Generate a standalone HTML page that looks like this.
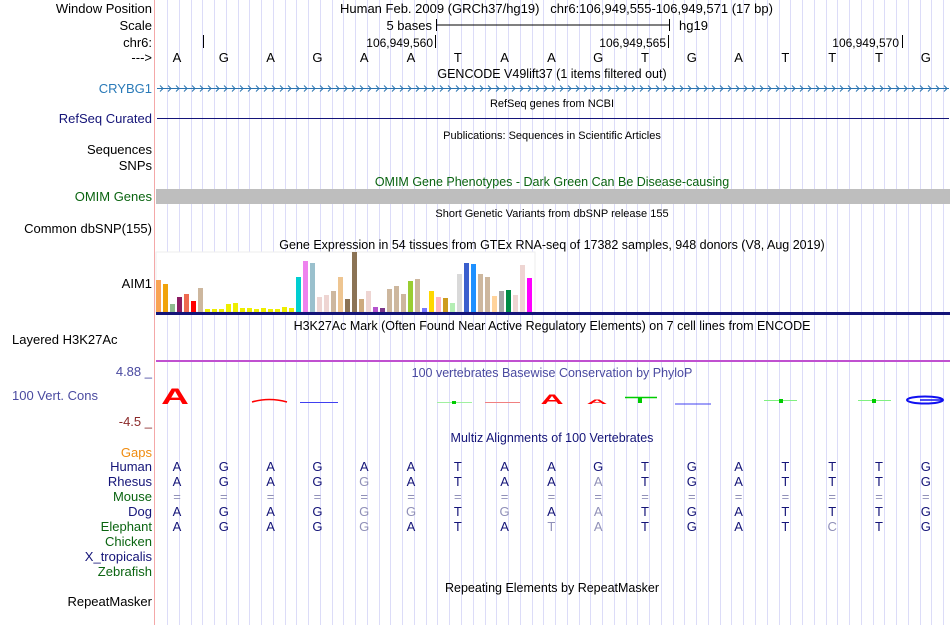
<!DOCTYPE html>
<html><head><meta charset="utf-8"><style>
html,body{margin:0;padding:0;background:#fff;width:950px;height:625px;overflow:hidden}
svg{display:block;font-family:"Liberation Sans",sans-serif}
</style></head><body>
<svg id="c" width="950" height="625" xmlns="http://www.w3.org/2000/svg">
<g id="grid"></g>
<line x1="154.5" y1="0" x2="154.5" y2="625" stroke="#f4a8a8" stroke-width="1"/>
<g font-size="13" text-anchor="end">
<text x="152" y="13" fill="#000">Window Position</text>
<text x="152" y="30" fill="#000">Scale</text>
<text x="152" y="47" fill="#000">chr6:</text>
<text x="152" y="62" fill="#000">---&gt;</text>
<text x="152" y="93" fill="#2a7ab8">CRYBG1</text>
<text x="152" y="123" fill="#141478">RefSeq Curated</text>
<text x="152" y="154" fill="#000">Sequences</text>
<text x="152" y="170" fill="#000">SNPs</text>
<text x="152" y="201" fill="#0a6410">OMIM Genes</text>
<text x="152" y="233" fill="#000">Common dbSNP(155)</text>
<text x="152" y="288" fill="#000">AIM1</text>
<text x="12" y="344" text-anchor="start" fill="#000">Layered H3K27Ac</text>
<text x="152" y="376" fill="#4a4aa0">4.88 _</text>
<text x="12" y="400" text-anchor="start" fill="#4a4aa0">100 Vert. Cons</text>
<text x="152" y="426" fill="#8b2a2a">-4.5 _</text>
<text x="152" y="457" fill="#f08c10">Gaps</text>
<text x="152" y="471" fill="#141478">Human</text>
<text x="152" y="486" fill="#141478">Rhesus</text>
<text x="152" y="501" fill="#0a6410">Mouse</text>
<text x="152" y="516" fill="#141478">Dog</text>
<text x="152" y="531" fill="#0a6410">Elephant</text>
<text x="152" y="546" fill="#0a6410">Chicken</text>
<text x="152" y="561" fill="#141478">X_tropicalis</text>
<text x="152" y="576" fill="#0a6410">Zebrafish</text>
<text x="152" y="606" fill="#000">RepeatMasker</text>
</g>
<g font-size="13" fill="#000">
<text x="340" y="13">Human Feb. 2009 (GRCh37/hg19)&#160;&#160;&#160;chr6:106,949,555-106,949,571 (17 bp)</text>
<text x="432" y="30" text-anchor="end">5 bases</text>
<line x1="436" y1="25" x2="669" y2="25" stroke="#000"/>
<line x1="436.5" y1="19" x2="436.5" y2="31" stroke="#000"/>
<line x1="669.5" y1="19" x2="669.5" y2="31" stroke="#000"/>
<text x="679" y="30">hg19</text>
<line x1="203.5" y1="35" x2="203.5" y2="48" stroke="#000"/>
<line x1="435.5" y1="35" x2="435.5" y2="48" stroke="#000"/>
<line x1="668.5" y1="35" x2="668.5" y2="48" stroke="#000"/>
<line x1="902.5" y1="35" x2="902.5" y2="48" stroke="#000"/>
<text x="433" y="47" text-anchor="end" font-size="12">106,949,560</text>
<text x="666" y="47" text-anchor="end" font-size="12">106,949,565</text>
<text x="899" y="47" text-anchor="end" font-size="12">106,949,570</text>
</g>
<g id="bases" font-size="13" text-anchor="middle"></g>
<g font-size="12.5" text-anchor="middle">
<text x="552" y="78" fill="#000">GENCODE V49lift37 (1 items filtered out)</text>
<text x="552" y="107" fill="#000" font-size="11">RefSeq genes from NCBI</text>
<text x="552" y="139" fill="#000" font-size="11">Publications: Sequences in Scientific Articles</text>
<text x="552" y="186" fill="#0a6410">OMIM Gene Phenotypes - Dark Green Can Be Disease-causing</text>
<text x="552" y="217" fill="#000" font-size="11">Short Genetic Variants from dbSNP release 155</text>
<text x="552" y="249" fill="#000">Gene Expression in 54 tissues from GTEx RNA-seq of 17382 samples, 948 donors (V8, Aug 2019)</text>
<text x="552" y="330" fill="#000">H3K27Ac Mark (Often Found Near Active Regulatory Elements) on 7 cell lines from ENCODE</text>
<text x="552" y="377" fill="#4a4aa0">100 vertebrates Basewise Conservation by PhyloP</text>
<text x="552" y="442" fill="#141478">Multiz Alignments of 100 Vertebrates</text>
<text x="552" y="592" fill="#000">Repeating Elements by RepeatMasker</text>
</g>
<g id="crybg1"><line x1="157" y1="88.5" x2="949" y2="88.5" stroke="#2a74b0"/></g>
<line x1="157" y1="118.5" x2="949" y2="118.5" stroke="#141478"/>
<rect x="156" y="189" width="794" height="15" fill="#bebebe"/>
<rect x="156" y="252" width="379" height="60" fill="#fff" stroke="#eee"/>
<g id="gtex"></g>
<rect x="156" y="312" width="794" height="3" fill="#141478"/>
<rect x="156" y="360" width="794" height="2" fill="#c050d0"/>
<g>
<text x="175" y="404" font-size="22" font-weight="bold" fill="#f00" text-anchor="middle" transform="translate(175 404) scale(1.75 1.0) translate(-175 -404)">A</text>
<path d="M252 402 Q269 397 287 402" stroke="#f00" stroke-width="1.5" fill="none"/>
<line x1="300" y1="402.5" x2="338" y2="402.5" stroke="#4040f0"/>
<line x1="437" y1="402.5" x2="472" y2="402.5" stroke="#a0f0a0"/><rect x="452" y="401" width="4" height="3" fill="#0c0"/>
<line x1="485" y1="402.5" x2="520" y2="402.5" stroke="#f08080"/>
<text x="552" y="404" font-size="16" font-weight="bold" fill="#f00" text-anchor="middle" transform="translate(552 404) scale(2 0.85) translate(-552 -404)">A</text>
<text x="597" y="404" font-size="12" font-weight="bold" fill="#f00" text-anchor="middle" transform="translate(597 404) scale(2.4 0.55) translate(-597 -404)">A</text>
<line x1="625" y1="397.5" x2="657" y2="397.5" stroke="#0c0" stroke-width="1.5"/><rect x="638" y="397" width="4" height="6" fill="#0c0"/>
<line x1="675" y1="404" x2="711" y2="404" stroke="#4040f0"/>
<line x1="764" y1="400.5" x2="797" y2="400.5" stroke="#80f080"/><rect x="779" y="399" width="4" height="4" fill="#0c0"/>
<line x1="858" y1="400.5" x2="891" y2="400.5" stroke="#80f080"/><rect x="872" y="399" width="4" height="4" fill="#0c0"/>
<ellipse cx="925" cy="400" rx="18" ry="3.5" fill="none" stroke="#1010f0" stroke-width="2"/><line x1="920" y1="400" x2="942" y2="400" stroke="#1010f0" stroke-width="1.5"/>
</g>
<g id="multiz" font-size="13" text-anchor="middle"></g>
</svg>
<script>
var NS="http://www.w3.org/2000/svg";
var gtexValues=[32,28,8,15,18,11,24,3,3,3,8,9,4,4,3,4,3,3,5,4,35,51,49,15,17,21,35,13,60,13,21,5,4,23,26,18,31,33,4,21,15,14,9,38,49,48,38,35,16,21,22,17,47,34];
var gtexColors=["#f9a354","#f0a30a","#8fbc8f","#8b1c62","#ee6a50","#ff0000","#cdb79e","#eeee00","#eeee00","#eeee00","#eeee00","#eeee00","#eeee00","#eeee00","#eeee00","#eeee00","#eeee00","#eeee00","#eeee00","#eeee00","#00ced1","#ee82ee","#9ac0cd","#eed5d2","#eed5d2","#cdb79e","#eec591","#8b7355","#8b7355","#cdaa7d","#eed5d2","#b452cd","#7a378b","#cdb79e","#cdb79e","#cdb79e","#9acd32","#cdb79e","#7777ff","#ffd700","#ffb6c1","#cd9b1d","#b4eeb4","#d9d9d9","#3a5fcd","#1e90ff","#cdb79e","#cdb79e","#ffd39b","#a6a6a6","#008b45","#eed5d2","#eed5d2","#ff00ff"];
var human="AGAGAATAAGTGATTTG";
var rhesus="AGAGGATAAATGATTTG";
var dog="AGAGGGTGAATGATTTG";
var elephant="AGAGGATATATGATCTG";
function gx(i){return 156+i*7;}
function gy(v){return 312-v*(60/60);}
function bx(i){return 177+i*46.8;}
var grid=document.getElementById('grid');
for(var x=167;x<950;x+=11.76){var l=document.createElementNS(NS,'line');l.setAttribute('x1',Math.round(x)+0.5);l.setAttribute('x2',Math.round(x)+0.5);l.setAttribute('y1',0);l.setAttribute('y2',625);l.setAttribute('stroke','#dcdcf8');


grid.appendChild(l);}
var g=document.getElementById('gtex');
gtexValues.forEach(function(v,i){var r=document.createElementNS(NS,'rect');r.setAttribute('x',gx(i));r.setAttribute('y',gy(v));r.setAttribute('width',5);r.setAttribute('height',312-gy(v));r.setAttribute('fill',gtexColors[i]);


g.appendChild(r);});
var b=document.getElementById('bases');
for(var i=0;i<human.length;i++){var t=document.createElementNS(NS,'text');t.setAttribute('x',bx(i));t.setAttribute('y',62);t.textContent=human[i];


b.appendChild(t);}
var cr=document.getElementById('crybg1');
for(var x=160;x<946;x+=8){var p=document.createElementNS(NS,'path');p.setAttribute('d','M'+x+' 85.5 L'+(x+3)+' 88.5 L'+x+' 91.5');p.setAttribute('stroke','#2a74b0');p.setAttribute('fill','none');


cr.appendChild(p);}
var m=document.getElementById('multiz');
function row(seq,y,isRef){for(var i=0;i<seq.length;i++){var t=document.createElementNS(NS,'text');t.setAttribute('x',bx(i));t.setAttribute('y',y);t.textContent=seq[i];var same=isRef||seq[i]===human[i];t.setAttribute('fill',same?'#141478':'#9090b8');


m.appendChild(t);}}
row(human,471,true);row(rhesus,486,false);row(dog,516,false);row(elephant,531,false);
row("=================",501,false);
</script>
</body></html>
